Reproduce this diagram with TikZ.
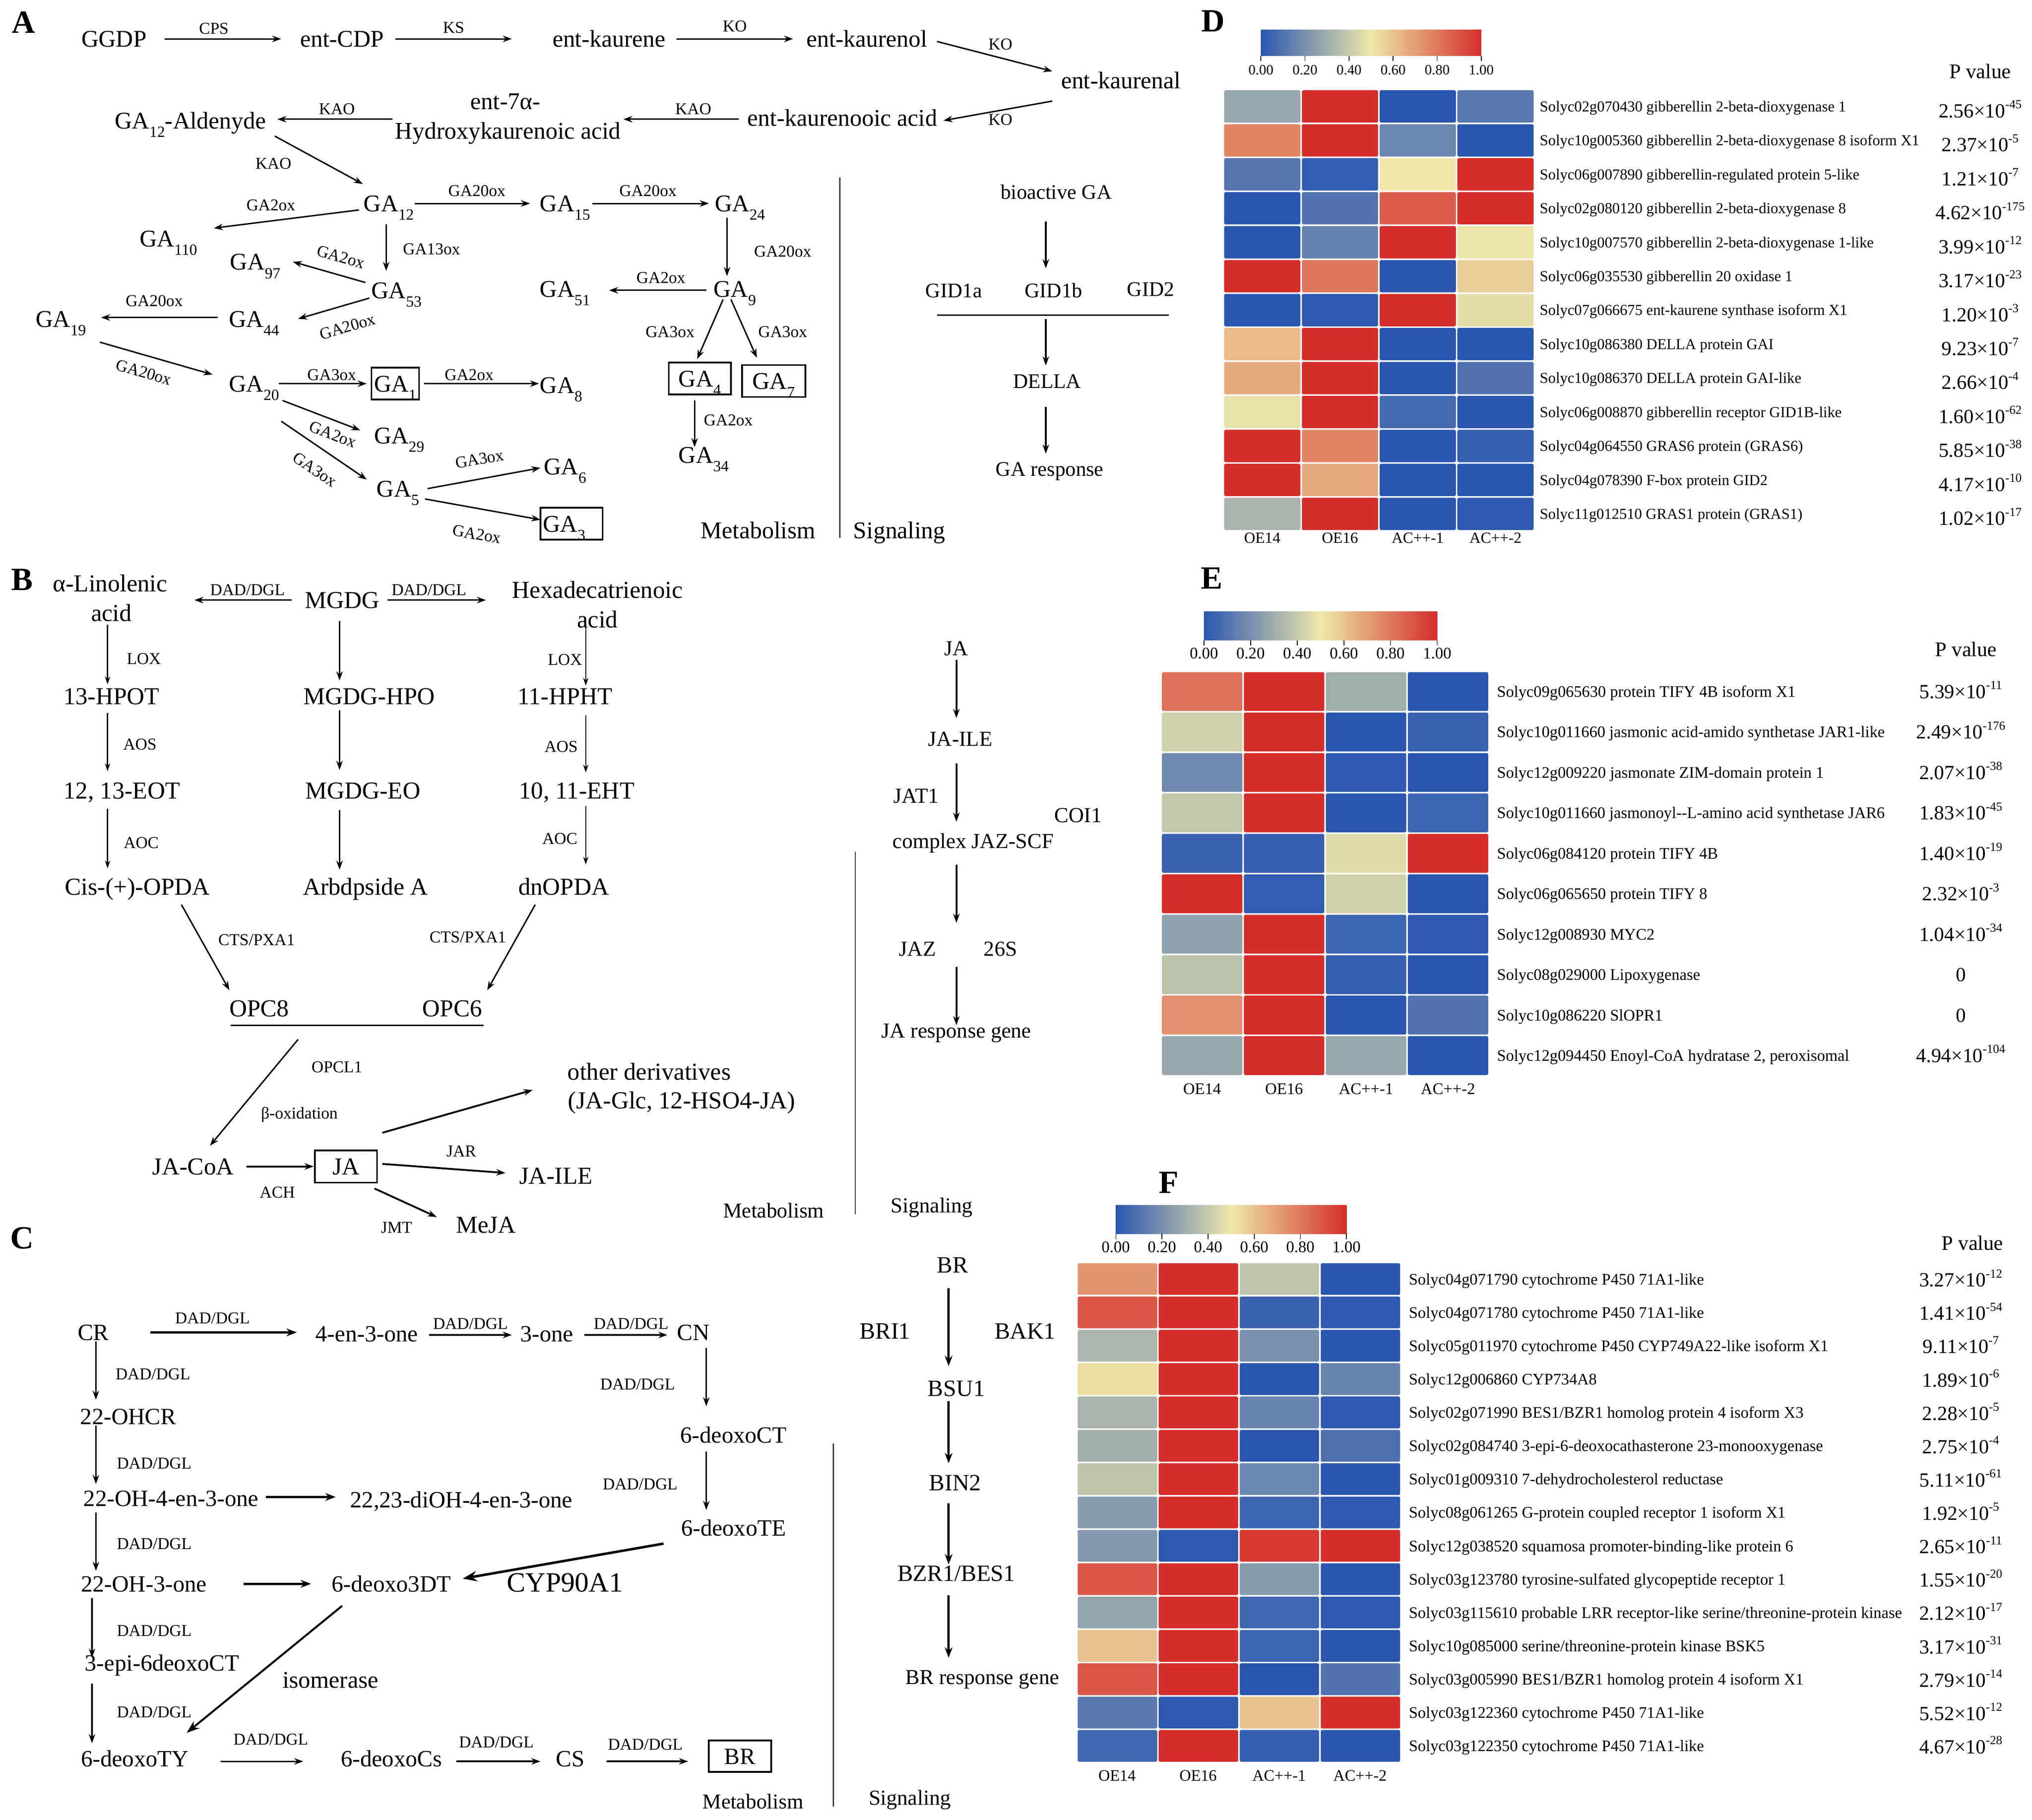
\documentclass[tikz,border=0pt]{standalone}
\usepackage{fontspec}
\setmainfont{Liberation Serif}
\usetikzlibrary{arrows.meta}
\newcommand\fsz[1]{\fontsize{#1pt}{#1pt}\selectfont}
\newcommand\sbs[1]{\raisebox{-6.5pt}{\fsz{12}#1}}
\newcommand\pval[2]{#1×10\raisebox{0.45em}{\fsz{9.5}#2}}
\definecolor{hmLo}{RGB}{43,86,176}
\definecolor{hmMid}{RGB}{238,232,170}
\definecolor{hmHi}{RGB}{212,46,43}
\definecolor{vline}{RGB}{60,60,60}
\newcommand\hmset[1]{%
  \pgfmathtruncatemacro\hmflag{(#1)<0.5}%
  \ifnum\hmflag=1\relax
    \pgfmathsetmacro\hmp{200*(#1)}\colorlet{hmc}{hmMid!\hmp!hmLo}%
  \else
    \pgfmathsetmacro\hmp{200*(#1)-100}\colorlet{hmc}{hmHi!\hmp!hmMid}%
  \fi}
\tikzset{
  fb/.code={\pgfmathsetmacro\tmpth{0.68*#1}\edef\tmpx{\noexpand\tikzset{text height=\tmpth pt}}\tmpx\tikzset{inner sep=0pt,text depth=0pt,font=\fsz{#1}}},
  t/.style={fb=18.5},
  tb/.style={fb=18.8},
  tc/.style={fb=18},
  lab/.style={fb=12.8},
  sgA/.style={fb=16},
  sgB/.style={fb=16.5},
  sgC/.style={fb=18},
  panel/.style={fb=25, font=\fsz{25}\bfseries},
  bx/.style={draw, line width=1.3pt, inner xsep=2pt, inner ysep=6pt},
  ar/.style={-{Stealth[length=7pt,width=5pt]}, line width=1.1pt},
  arthin/.style={-{Stealth[length=6pt,width=4pt]}, line width=0.9pt},
  armed/.style={-{Stealth[length=7pt,width=5pt]}, line width=1.4pt},
  arthick/.style={-{Stealth[length=8pt,width=6pt]}, line width=1.9pt},
  sep/.style={line width=1pt, draw=vline},
  cell/.style={rounded corners=1.2pt},
}
\begin{document}
\begin{tikzpicture}[x=1pt,y=-1pt]
\fill[white] (0,0) rectangle (1568,1404);
\useasboundingbox (0,0) rectangle (1568,1404);

%================ PANEL A =================
\node[panel] (pA) at (18,17) {A};
\node[t] (ggdp) at (88,30) {GGDP};
\node[t] (cdp) at (264,30) {ent-CDP};
\node[t] (kaurene) at (470,30) {ent-kaurene};
\node[t] (kaurenol) at (669,30) {ent-kaurenol};
\node[t] (kaurenal) at (865,62) {ent-kaurenal};
\node[t] (kacid) at (650,91) {ent-kaurenooic acid};
\node[t] (hkat) at (390,78) {ent-7α-};
\node[t] (hka) at (392,101) {Hydroxykaurenoic acid};
\node[t] (ald) at (147,93) {GA\sbs{12}-Aldenyde};
\node[t] (ga12) at (300,157) {GA\sbs{12}};
\node[t] (ga110) at (130,184) {GA\sbs{110}};
\node[t] (ga97) at (197,202) {GA\sbs{97}};
\node[t] (ga53) at (306,224) {GA\sbs{53}};
\node[t] (ga44) at (196,246) {GA\sbs{44}};
\node[t] (ga19) at (47,246) {GA\sbs{19}};
\node[t] (ga20) at (196,296) {GA\sbs{20}};
\node[t,bx] (ga1) at (305,296) {GA\sbs{1}};
\node[t] (ga8) at (433,297) {GA\sbs{8}};
\node[t] (ga29) at (308,336) {GA\sbs{29}};
\node[t] (ga5) at (307,377) {GA\sbs{5}};
\node[t] (ga6) at (436,360) {GA\sbs{6}};
\node[t,bx] (ga3) at (441,404) {\makebox[44pt][l]{GA\sbs{3}}};
\node[t] (ga15) at (436,157) {GA\sbs{15}};
\node[t] (ga24) at (571,157) {GA\sbs{24}};
\node[t] (ga9) at (567,223) {GA\sbs{9}};
\node[t] (ga51) at (436,223) {GA\sbs{51}};
\node[t,bx,minimum width=48pt] (ga4) at (540,292) {GA\sbs{4}};
\node[t,bx,minimum width=49pt] (ga7) at (597,294) {GA\sbs{7}};
\node[t] (ga34) at (543,351) {GA\sbs{34}};

\draw[ar] ([shift={(39,0)}]ggdp.center) -- ([shift={(-47,0)}]cdp.center);
\draw[ar] ([shift={(41,0)}]cdp.center) -- ([shift={(-75,0)}]kaurene.center);
\draw[ar] ([shift={(52,0)}]kaurene.center) -- ([shift={(-57,0)}]kaurenol.center);
\draw[ar] ([shift={(54,2)}]kaurenol.center) -- ([shift={(-53,-7)}]kaurenal.center);
\draw[ar] ([shift={(-53,16)}]kaurenal.center) -- ([shift={(78,2)}]kacid.center);
\draw[ar] ([shift={(-80,1)}]kacid.center) -- ([shift={(89,-9)}]hka.center);
\draw[ar] ([shift={(-89,-9)}]hka.center) -- ([shift={(67,-1)}]ald.center);
\draw[ar] ([shift={(65,12)}]ald.center) -- ([shift={(-20,-15)}]ga12.center);
\draw[ar] ([shift={(-23,5)}]ga12.center) -- ([shift={(35,-8)}]ga110.center);
\draw[ar] ([shift={(-2,16)}]ga12.center) -- ([shift={(-8,-15)}]ga53.center);
\draw[ar] ([shift={(-24,-6)}]ga53.center) -- ([shift={(29,0)}]ga97.center);
\draw[ar] ([shift={(-21,6)}]ga53.center) -- ([shift={(34,0)}]ga44.center);
\draw[ar] ([shift={(-28,-1)}]ga44.center) -- ([shift={(31,-1)}]ga19.center);
\draw[ar] ([shift={(30,18)}]ga19.center) -- ([shift={(-32,-7)}]ga20.center);
\draw[ar] ([shift={(19,0)}]ga20.center) -- ([shift={(-22,0)}]ga1.center);
\draw[ar] ([shift={(22,0)}]ga1.center) -- ([shift={(-17,-1)}]ga8.center);
\draw[ar] ([shift={(22,13)}]ga20.center) -- ([shift={(-30,-4)}]ga29.center);
\draw[ar] ([shift={(21,29)}]ga20.center) -- ([shift={(-24,-7)}]ga5.center);
\draw[ar] ([shift={(23,0)}]ga5.center) -- ([shift={(-19,1)}]ga6.center);
\draw[ar] ([shift={(21,8)}]ga5.center) -- ([shift={(-24,-3)}]ga3.center);
\draw[ar] ([shift={(20,0)}]ga12.center) -- ([shift={(-27,0)}]ga15.center);
\draw[ar] ([shift={(21,0)}]ga15.center) -- ([shift={(-24,0)}]ga24.center);
\draw[ar] ([shift={(-10,11)}]ga24.center) -- ([shift={(-6,-10)}]ga9.center);
\draw[ar] ([shift={(-22,1)}]ga9.center) -- ([shift={(34,1)}]ga51.center);
\draw[ar] ([shift={(-9,8)}]ga9.center) -- ([shift={(-2,-15)}]ga4.center);
\draw[ar] ([shift={(-3,8)}]ga9.center) -- ([shift={(-13,-18)}]ga7.center);
\draw[ar] ([shift={(-4,17)}]ga4.center) -- ([shift={(-7,-6)}]ga34.center);

\node[lab] (lCPS) at (165,22) {CPS};
\node[lab] (lKS) at (350,21) {KS};
\node[lab] (lKO1) at (567,20) {KO};
\node[lab] (lKO2) at (772,34) {KO};
\node[lab] (lKO3) at (772,92) {KO};
\node[lab] (lKAO1) at (535,84) {KAO};
\node[lab] (lKAO2) at (260,84) {KAO};
\node[lab] (lKAO3) at (211,126) {KAO};
\node[lab] (l9) at (209,158) {GA2ox};
\node[lab] (l10) at (333,192) {GA13ox};
\node[lab,rotate=-16] (l11) at (263,198) {GA2ox};
\node[lab,rotate=16] (l12) at (268,252) {GA20ox};
\node[lab] (l13) at (119,232) {GA20ox};
\node[lab,rotate=-16] (l14) at (111,287) {GA20ox};
\node[lab] (l15) at (256,289) {GA3ox};
\node[lab] (l16) at (362,289) {GA2ox};
\node[lab,rotate=-21] (l17) at (257,335) {GA2ox};
\node[lab,rotate=-34] (l18) at (243,362) {GA3ox};
\node[lab,rotate=10] (l19) at (370,354) {GA3ox};
\node[lab,rotate=-10] (l20) at (368,412) {GA2ox};
\node[lab] (l21) at (368,147) {GA20ox};
\node[lab] (l22) at (500,147) {GA20ox};
\node[lab] (l23) at (604,194) {GA20ox};
\node[lab] (l24) at (510,214) {GA2ox};
\node[lab] (l25) at (517,256) {GA3ox};
\node[lab] (l26) at (604,256) {GA3ox};
\node[lab] (l27) at (562,324) {GA2ox};

\draw[sep] (648,137) -- (648,415);
\node[t] (metA) at (585,409) {Metabolism};
\node[t] (sigA) at (694,409) {Signaling};

% GA signaling
\node[sgA] (bga) at (815,148) {bioactive GA};
\node[sgA] (gid1a) at (736,224) {GID1a};
\node[sgA] (gid1b) at (813,224) {GID1b};
\node[sgA] (gid2) at (888,223) {GID2};
\node[sgA] (della) at (808,294) {DELLA};
\node[sgA] (gar) at (810,362) {GA response};
\draw[ar] ([shift={(-8,23)}]bga.center) -- ([shift={(-6,-17)}]gid1b.center);
\draw[line width=1pt] ([shift={(-13,19)}]gid1a.center) -- ([shift={(14,20)}]gid2.center);
\draw[ar] ([shift={(-6,22)}]gid1b.center) -- ([shift={(-1,-12)}]della.center);
\draw[ar] ([shift={(-1,20)}]della.center) -- ([shift={(-3,-12)}]gar.center);

%================ PANEL B =================
\node[panel] (pB) at (17,447) {B};
\node[tb] (alin1) at (85,450) {α-Linolenic};
\node[tb] (alin2) at (86,473) {acid};
\node[tb] (mgdg) at (264,463) {MGDG};
\node[tb] (hex1) at (461,455) {Hexadecatrienoic};
\node[tb] (hex2) at (461,478) {acid};
\node[tb] (hpot) at (86,537) {13-HPOT};
\node[tb] (mhpo) at (285,537) {MGDG-HPO};
\node[tb] (hpht) at (436,537) {11-HPHT};
\node[tb] (eot) at (94,610) {12, 13-EOT};
\node[tb] (meo) at (280,610) {MGDG-EO};
\node[tb] (eht) at (445,610) {10, 11-EHT};
\node[tb] (opda) at (106,684) {Cis-(+)-OPDA};
\node[tb] (arb) at (282,684) {Arbdpside A};
\node[tb] (dnopda) at (435,684) {dnOPDA};
\node[tb] (opc8) at (200,778) {OPC8};
\node[tb] (opc6) at (349,778) {OPC6};
\node[tb] (jacoa) at (149,900) {JA-CoA};
\node[tb,bx,minimum width=48pt] (ja) at (267,900) {JA};
\node[tb] (jaileB) at (429,907) {JA-ILE};
\node[tb] (oth1) at (501,827) {other derivatives};
\node[tb] (oth2) at (526,849) {(JA-Glc, 12-HSO4-JA)};
\node[tb] (meja) at (375,945) {MeJA};

\draw[ar] ([shift={(-39,0)}]mgdg.center) -- ([shift={(65,13)}]alin1.center);
\draw[ar] ([shift={(35,0)}]mgdg.center) -- ([shift={(-86,8)}]hex1.center);
\draw[arthin] ([shift={(-3,9)}]alin2.center) -- ([shift={(-3,-9)}]hpot.center);
\draw[arthin] ([shift={(-3,13)}]hpot.center) -- ([shift={(-11,-15)}]eot.center);
\draw[arthin] ([shift={(-11,14)}]eot.center) -- ([shift={(-23,-14)}]opda.center);
\draw[ar] ([shift={(-2,16)}]mgdg.center) -- ([shift={(-23,-12)}]mhpo.center);
\draw[ar] ([shift={(-23,11)}]mhpo.center) -- ([shift={(-18,-16)}]meo.center);
\draw[ar] ([shift={(-18,15)}]meo.center) -- ([shift={(-20,-13)}]arb.center);
\draw[arthin] ([shift={(-9,2)}]hex2.center) -- ([shift={(16,-8)}]hpht.center);
\draw[arthin] ([shift={(16,15)}]hpht.center) -- ([shift={(7,-14)}]eht.center);
\draw[arthin] ([shift={(7,12)}]eht.center) -- ([shift={(17,-17)}]dnopda.center);
\draw[ar] ([shift={(34,14)}]opda.center) -- ([shift={(-23,-14)}]opc8.center);
\draw[ar] ([shift={(-22,14)}]dnopda.center) -- ([shift={(27,-14)}]opc6.center);
\draw[line width=1pt] ([shift={(-22,13)}]opc8.center) -- ([shift={(24,13)}]opc6.center);
\draw[ar] ([shift={(30,24)}]opc8.center) -- ([shift={(13,-16)}]jacoa.center);
\draw[armed] ([shift={(41,0)}]jacoa.center) -- ([shift={(-25,0)}]ja.center);
\draw[armed] ([shift={(28,-2)}]ja.center) -- ([shift={(-39,-2)}]jaileB.center);
\draw[armed] ([shift={(28,-26)}]ja.center) -- ([shift={(-115,-8)}]oth2.center);
\draw[armed] ([shift={(22,17)}]ja.center) -- ([shift={(-38,-6)}]meja.center);

\node[lab] (bl1) at (191,455) {DAD/DGL};
\node[lab] (bl2) at (331,455) {DAD/DGL};
\node[lab] (bl3) at (111,508) {LOX};
\node[lab] (bl4) at (108,574) {AOS};
\node[lab] (bl5) at (109,650) {AOC};
\node[lab] (bl6) at (436,509) {LOX};
\node[lab] (bl7) at (433,576) {AOS};
\node[lab] (bl8) at (432,647) {AOC};
\node[lab] (bl9) at (198,725) {CTS/PXA1};
\node[lab] (bl10) at (361,723) {CTS/PXA1};
\node[lab] (bl11) at (260,823) {OPCL1};
\node[lab] (bl12) at (231,859) {β-oxidation};
\node[lab] (bl13) at (214,920) {ACH};
\node[lab] (bl14) at (356,888) {JAR};
\node[lab] (bl15) at (306,947) {JMT};

\draw[sep] (660,657) -- (660,937);
\node[fb=16.3] (metB) at (597,934) {Metabolism};
\node[sgB] (sigB) at (719,930) {Signaling};

% JA signaling
\node[sgB] (jas) at (738,500) {JA};
\node[sgB] (jaile) at (741,570) {JA-ILE};
\node[sgB] (jat1) at (707,614) {JAT1};
\node[sgB] (coi1) at (832,629) {COI1};
\node[sgB] (cjaz) at (751,649) {complex JAZ-SCF};
\node[sgB] (jaz) at (708,732) {JAZ};
\node[sgB] (s26) at (772,732) {26S};
\node[sgB] (jarg) at (738,795) {JA response gene};
\draw[armed] ([shift={(0,9)}]jas.center) -- ([shift={(-3,-16)}]jaile.center);
\draw[armed] ([shift={(-3,19)}]jaile.center) -- ([shift={(-13,-15)}]cjaz.center);
\draw[armed] ([shift={(-13,18)}]cjaz.center) -- ([shift={(30,-20)}]jaz.center);
\draw[armed] ([shift={(30,14)}]jaz.center) -- ([shift={(0,-4)}]jarg.center);

%================ PANEL C =================
\node[panel] (pC) at (17,955) {C};
\node[tc] (cr) at (72,1028) {CR};
\node[tc] (e43) at (283,1029) {4-en-3-one};
\node[tc] (one3) at (422,1029) {3-one};
\node[tc] (cn) at (535,1028) {CN};
\node[tc] (dct) at (566,1107) {6-deoxoCT};
\node[tc] (dte) at (566,1179) {6-deoxoTE};
\node[tc] (d3dt) at (302,1222) {6-deoxo3DT};
\node[fb=21.5] (cyp) at (436,1221) {CYP90A1};
\node[tc] (oh3) at (111,1222) {22-OH-3-one};
\node[tc] (ohcr) at (99,1093) {22-OHCR};
\node[tc] (oh4) at (132,1156) {22-OH-4-en-3-one};
\node[tc] (dioh) at (356,1157) {22,23-diOH-4-en-3-one};
\node[tc] (epi) at (125,1283) {3-epi-6deoxoCT};
\node[tc] (dty) at (104,1357) {6-deoxoTY};
\node[fb=18.5] (iso) at (255,1296) {isomerase};
\node[tc] (dcs) at (302,1357) {6-deoxoCs};
\node[tc] (cs) at (440,1357) {CS};
\node[tc,bx,minimum width=48pt] (brc) at (571,1355) {BR};

\draw[arthick] ([shift={(44,0)}]cr.center) -- ([shift={(-54,-1)}]e43.center);
\draw[armed] ([shift={(48,1)}]e43.center) -- ([shift={(-27,1)}]one3.center);
\draw[armed] ([shift={(29,1)}]one3.center) -- ([shift={(-20,2)}]cn.center);
\draw[ar] ([shift={(10,12)}]cn.center) -- ([shift={(-21,-22)}]dct.center);
\draw[ar] ([shift={(-21,13)}]dct.center) -- ([shift={(-21,-14)}]dte.center);
\draw[-{Stealth[length=11pt,width=8pt]}, line width=1.9pt] ([shift={(-54,12)}]dte.center) -- ([shift={(55,-4)}]d3dt.center);
\draw[arthick] ([shift={(77,0)}]oh3.center) -- ([shift={(-62,0)}]d3dt.center);
\draw[ar] ([shift={(2,7)}]cr.center) -- ([shift={(-25,-13)}]ohcr.center);
\draw[ar] ([shift={(-25,7)}]ohcr.center) -- ([shift={(-58,-11)}]oh4.center);
\draw[arthick] ([shift={(73,-1)}]oh4.center) -- ([shift={(-97,-2)}]dioh.center);
\draw[ar] ([shift={(-58,11)}]oh4.center) -- ([shift={(-37,-10)}]oh3.center);
\draw[ar] ([shift={(-40,11)}]oh3.center) -- ([shift={(-54,-4)}]epi.center);
\draw[ar] ([shift={(-54,16)}]epi.center) -- ([shift={(-33,-12)}]dty.center);
\draw[-{Stealth[length=10pt,width=7pt]}, line width=1.5pt] ([shift={(-38,17)}]d3dt.center) -- ([shift={(40,-20)}]dty.center);
\draw[ar] ([shift={(66,2)}]dty.center) -- ([shift={(-68,2)}]dcs.center);
\draw[armed] ([shift={(50,2)}]dcs.center) -- ([shift={(-23,2)}]cs.center);
\draw[armed] ([shift={(28,2)}]cs.center) -- ([shift={(-40,4)}]brc.center);

\node[lab] (cl1) at (164,1017) {DAD/DGL};
\node[lab] (cl2) at (363,1021) {DAD/DGL};
\node[lab] (cl3) at (487,1021) {DAD/DGL};
\node[lab] (cl4) at (492,1068) {DAD/DGL};
\node[lab] (cl5) at (494,1145) {DAD/DGL};
\node[lab] (cl6) at (118,1060) {DAD/DGL};
\node[lab] (cl7) at (119,1129) {DAD/DGL};
\node[lab] (cl8) at (119,1191) {DAD/DGL};
\node[lab] (cl9) at (119,1258) {DAD/DGL};
\node[lab] (cl10) at (119,1321) {DAD/DGL};
\node[lab] (cl11) at (209,1342) {DAD/DGL};
\node[lab] (cl12) at (383,1344) {DAD/DGL};
\node[lab] (cl13) at (498,1346) {DAD/DGL};

\draw[sep] (643,1114) -- (643,1394);
\node[fb=16.3] (metC) at (581,1390) {Metabolism};
\node[sgB] (sigC) at (702,1387) {Signaling};

% BR signaling
\node[sgC] (brs) at (735,976) {BR};
\node[sgC] (bri1) at (683,1027) {BRI1};
\node[sgC] (bak1) at (791,1027) {BAK1};
\node[sgC] (bsu1) at (738,1071) {BSU1};
\node[sgC] (bin2) at (737,1144) {BIN2};
\node[sgC] (bzr) at (738,1214) {BZR1/BES1};
\node[fb=16.4] (brg) at (758,1294) {BR response gene};
\draw[arthick] ([shift={(-3,18)}]brs.center) -- ([shift={(-6,-17)}]bsu1.center);
\draw[arthick] ([shift={(-6,10)}]bsu1.center) -- ([shift={(-5,-15)}]bin2.center);
\draw[arthick] ([shift={(-5,16)}]bin2.center) -- ([shift={(-6,-7)}]bzr.center);
\draw[arthick] ([shift={(-6,17)}]bzr.center) -- ([shift={(-26,-15)}]brg.center);

%================ PANEL D =================
\node[panel] (pD) at (936,16) {D};
\shade[left color=hmLo, right color=hmHi, middle color=hmMid] (973,23) rectangle (1143,43);
\foreach \i/\l in {0/0.00,1/0.20,2/0.40,3/0.60,4/0.80,5/1.00} {
  \draw[line width=0.6pt] ({973+\i*34},43) -- ++(0,4);
  \node[fb=11, name=dt\i] at ({973+\i*34},54) {\l};
}
\node[fb=16] (dpv) at (1528,55) {P value};
\foreach \vals [count=\r from 0] in {{0.28,1,0,0.12},{0.77,1,0.17,0},{0.11,0.02,0.5,1},{0,0.1,0.87,1},{0,0.15,1,0.49},{1,0.8,0,0.57},{0,0.01,1,0.47},{0.62,1,0,0},{0.66,1,0,0.1},{0.48,1,0.07,0},{1,0.77,0,0.03},{1,0.67,0,0},{0.32,1,0,0.01}} {
  \foreach \v [count=\c from 0] in \vals {
    \hmset{\v}
    \fill[hmc, cell] ({944+\c*60+0.6},{69+\r*26.2+0.6}) rectangle ++(58.8,25);
  }
}
\foreach \g [count=\r from 0] in {{Solyc02g070430 gibberellin 2-beta-dioxygenase 1},{Solyc10g005360 gibberellin 2-beta-dioxygenase 8 isoform X1},{Solyc06g007890 gibberellin-regulated protein 5-like},{Solyc02g080120 gibberellin 2-beta-dioxygenase 8},{Solyc10g007570 gibberellin 2-beta-dioxygenase 1-like},{Solyc06g035530 gibberellin 20 oxidase 1},{Solyc07g066675 ent-kaurene synthase isoform X1},{Solyc10g086380 DELLA protein GAI},{Solyc10g086370 DELLA protein GAI-like},{Solyc06g008870 gibberellin receptor GID1B-like},{Solyc04g064550 GRAS6 protein (GRAS6)},{Solyc04g078390 F-box protein GID2},{Solyc11g012510 GRAS1 protein (GRAS1)}}
  \node[fb=11.7, anchor=west, name=dg\r] at (1188,{82.1+\r*26.2}) {\g};
\foreach \p [count=\r from 0] in {{\pval{2.56}{-45}},{\pval{2.37}{-5}},{\pval{1.21}{-7}},{\pval{4.62}{-175}},{\pval{3.99}{-12}},{\pval{3.17}{-23}},{\pval{1.20}{-3}},{\pval{9.23}{-7}},{\pval{2.66}{-4}},{\pval{1.60}{-62}},{\pval{5.85}{-38}},{\pval{4.17}{-10}},{\pval{1.02}{-17}}}
  \node[fb=15.5, name=dp\r] at (1528,{85.5+\r*26.2}) {\p};
\foreach \l [count=\c from 0] in {OE14,OE16,AC++-1,AC++-2}
  \node[fb=12, name=dc\c] at ({974+\c*60},415) {\l};

%================ PANEL E =================
\node[panel] (pE) at (935,446) {E};
\shade[left color=hmLo, right color=hmHi, middle color=hmMid] (929,472) rectangle (1109,494);
\foreach \i/\l in {0/0.00,1/0.20,2/0.40,3/0.60,4/0.80,5/1.00} {
  \draw[line width=0.6pt] ({929+\i*36},494) -- ++(0,4);
  \node[fb=12.5, name=et\i] at ({929+\i*36},504) {\l};
}
\node[fb=16] (epv) at (1517,501) {P value};
\foreach \vals [count=\r from 0] in {{0.82,1,0.3,0},{0.42,1,0,0.04},{0.18,1,0.01,0},{0.39,1,0,0.05},{0.04,0.03,0.46,1},{1,0.02,0.42,0},{0.26,1,0.05,0.01},{0.37,1,0.03,0},{0.73,1,0,0.1},{0.28,1,0.28,0}} {
  \foreach \v [count=\c from 0] in \vals {
    \hmset{\v}
    \fill[hmc, cell] ({896+\c*63.25+0.6},{518+\r*31.2+0.6}) rectangle ++(62.05,30);
  }
}
\foreach \g [count=\r from 0] in {{Solyc09g065630 protein TIFY 4B isoform X1},{Solyc10g011660 jasmonic acid-amido synthetase JAR1-like},{Solyc12g009220 jasmonate ZIM-domain protein 1},{Solyc10g011660 jasmonoyl-{}-L-amino acid synthetase JAR6},{Solyc06g084120 protein TIFY 4B},{Solyc06g065650 protein TIFY 8},{Solyc12g008930 MYC2},{Solyc08g029000 Lipoxygenase},{Solyc10g086220 SlOPR1},{Solyc12g094450 Enoyl-CoA hydratase 2, peroxisomal}}
  \node[fb=12.4, anchor=west, name=eg\r] at (1155,{533.6+\r*31.2}) {\g};
\foreach \p [count=\r from 0] in {{\pval{5.39}{-11}},{\pval{2.49}{-176}},{\pval{2.07}{-38}},{\pval{1.83}{-45}},{\pval{1.40}{-19}},{\pval{2.32}{-3}},{\pval{1.04}{-34}},{0},{0},{\pval{4.94}{-104}}}
  \node[fb=15.5, name=ep\r] at (1513,{533.6+\r*31.2}) {\p};
\foreach \l [count=\c from 0] in {OE14,OE16,AC++-1,AC++-2}
  \node[fb=12.5, name=ec\c] at ({927.6+\c*63.25},840) {\l};

%================ PANEL F =================
\node[panel] (pF) at (902,912) {F};
\shade[left color=hmLo, right color=hmHi, middle color=hmMid] (861,930) rectangle (1039,952);
\foreach \i/\l in {0/0.00,1/0.20,2/0.40,3/0.60,4/0.80,5/1.00} {
  \draw[line width=0.6pt] ({861+\i*35.6},952) -- ++(0,4);
  \node[fb=12.5, name=ft\i] at ({861+\i*35.6},962) {\l};
}
\node[fb=16] (fpv) at (1522,959) {P value};
\foreach \vals [count=\r from 0] in {{0.72,1,0.38,0},{0.89,1,0.04,0.01},{0.33,1,0.2,0},{0.53,1,0,0.16},{0.32,1,0.16,0.01},{0.3,1,0,0.09},{0.38,1,0.17,0},{0.24,1,0.05,0.01},{0.23,0.01,0.97,1},{0.89,1,0.24,0},{0.27,1,0.06,0.01},{0.6,1,0.05,0},{0.89,1,0,0.1},{0.12,0.01,0.6,1},{0.06,1,0.03,0}} {
  \foreach \v [count=\c from 0] in \vals {
    \hmset{\v}
    \fill[hmc, cell] ({831+\c*62.5+0.6},{974+\r*25.73+0.6}) rectangle ++(61.3,24.5);
  }
}
\foreach \g [count=\r from 0] in {{Solyc04g071790 cytochrome P450 71A1-like},{Solyc04g071780 cytochrome P450 71A1-like},{Solyc05g011970 cytochrome P450 CYP749A22-like isoform X1},{Solyc12g006860 CYP734A8},{Solyc02g071990 BES1/BZR1 homolog protein 4 isoform X3},{Solyc02g084740 3-epi-6-deoxocathasterone 23-monooxygenase},{Solyc01g009310 7-dehydrocholesterol reductase},{Solyc08g061265 G-protein coupled receptor 1 isoform X1},{Solyc12g038520 squamosa promoter-binding-like protein 6},{Solyc03g123780 tyrosine-sulfated glycopeptide receptor 1},{Solyc03g115610 probable LRR receptor-like serine/threonine-protein kinase},{Solyc10g085000 serine/threonine-protein kinase BSK5},{Solyc03g005990 BES1/BZR1 homolog protein 4 isoform X1},{Solyc03g122360 cytochrome P450 71A1-like},{Solyc03g122350 cytochrome P450 71A1-like}}
  \node[fb=12.4, anchor=west, name=fg\r] at (1087,{986.9+\r*25.73}) {\g};
\foreach \p [count=\r from 0] in {{\pval{3.27}{-12}},{\pval{1.41}{-54}},{\pval{9.11}{-7}},{\pval{1.89}{-6}},{\pval{2.28}{-5}},{\pval{2.75}{-4}},{\pval{5.11}{-61}},{\pval{1.92}{-5}},{\pval{2.65}{-11}},{\pval{1.55}{-20}},{\pval{2.12}{-17}},{\pval{3.17}{-31}},{\pval{2.79}{-14}},{\pval{5.52}{-12}},{\pval{4.67}{-28}}}
  \node[fb=15.5, name=fp\r] at (1513,{987.5+\r*25.73}) {\p};
\foreach \l [count=\c from 0] in {OE14,OE16,AC++-1,AC++-2}
  \node[fb=12.3, name=fc\c] at ({862+\c*62.5},1370) {\l};

\end{tikzpicture}
\end{document}
